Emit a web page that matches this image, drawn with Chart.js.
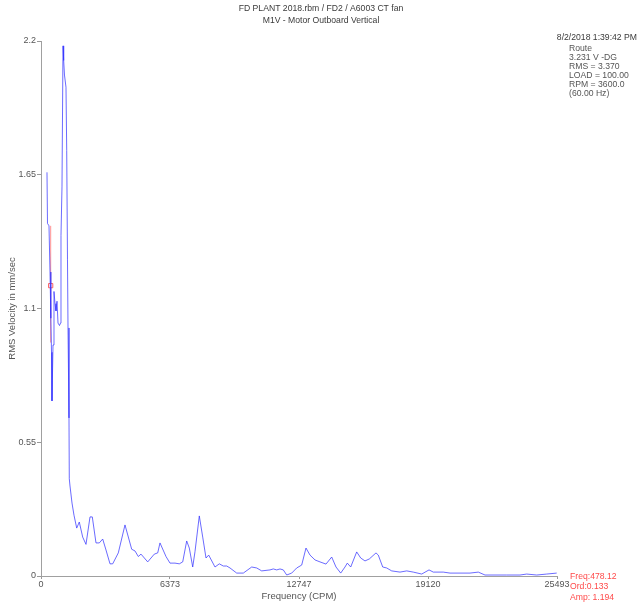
<!DOCTYPE html>
<html>
<head>
<meta charset="utf-8">
<script src="https://cdn.jsdelivr.net/npm/chart.js@4.4.1/dist/chart.umd.min.js"></script>
<style>
  html, body { margin: 0; padding: 0; background: #ffffff; }
  #wrap { width: 640px; height: 605px; }
</style>
</head>
<body>
<div id="wrap"><canvas id="c" width="640" height="605"></canvas></div>
<script>
// Frequency (CPM)
const freqCPM = [296, 321, 395, 445, 478, 494, 519, 543, 593, 642, 692, 741, 790, 840, 914, 963, 988, 1037, 1087, 1120, 1160, 1235, 1270, 1309, 1334, 1383, 1398, 1433, 1532, 1630, 1764, 1892, 2060, 2223, 2421, 2535, 2717, 2880, 3048, 3211, 3409, 3542, 3819, 4150, 4481, 4644, 4807, 4941, 5272, 5598, 5766, 5879, 6176, 6373, 6620, 6833, 7001, 7198, 7327, 7495, 7608, 7821, 7989, 8152, 8285, 8596, 8809, 9007, 9175, 9338, 9669, 9995, 10410, 10657, 10904, 11314, 11477, 11645, 11808, 11971, 12139, 12386, 12633, 12880, 13092, 13290, 13537, 13784, 14080, 14362, 14574, 14807, 15019, 15133, 15301, 15597, 15795, 16007, 16219, 16551, 16664, 16882, 17079, 17326, 17736, 18068, 18394, 18809, 19170, 19382, 19876, 20207, 20701, 21195, 21605, 21936, 23007, 23665, 23996, 24490, 24984, 25478];
// RMS velocity (mm/sec)
const rmsVelocity = [1.66, 1.45, 1.44, 1.25, 1.194, 1.06, 0.92, 0.72, 0.95, 1.17, 1.12, 1.09, 1.13, 1.04, 1.03, 1.04, 1.40, 1.60, 2.18, 2.12, 2.06, 2.01, 1.75, 1.30, 1.02, 0.65, 0.40, 0.37, 0.30, 0.25, 0.197, 0.222, 0.16, 0.13, 0.243, 0.243, 0.136, 0.136, 0.152, 0.107, 0.05, 0.05, 0.095, 0.21, 0.11, 0.103, 0.08, 0.09, 0.058, 0.09, 0.095, 0.136, 0.08, 0.053, 0.053, 0.05, 0.058, 0.144, 0.115, 0.037, 0.10, 0.247, 0.16, 0.074, 0.086, 0.037, 0.05, 0.041, 0.041, 0.033, 0.012, 0.012, 0.037, 0.033, 0.021, 0.025, 0.029, 0.025, 0.029, 0.025, 0.004, 0.012, 0.033, 0.045, 0.115, 0.086, 0.066, 0.058, 0.049, 0.078, 0.037, 0.012, 0.037, 0.053, 0.037, 0.099, 0.074, 0.062, 0.07, 0.095, 0.086, 0.037, 0.033, 0.021, 0.016, 0.021, 0.016, 0.008, 0.025, 0.016, 0.016, 0.012, 0.012, 0.012, 0.016, 0.004, 0.004, 0.004, 0.008, 0.004, 0.008, 0.012];
// Tick labels
const xTickValues = [0, 6373, 12747, 19120, 25493];
const yTickValues = [0, 0.55, 1.1, 1.65, 2.2];
// Cursor
const cursorFreq = [478.12];
const cursorAmp = [1.194];
const cursorSpan = [0.96, 1.44];
// Text
const titleLines = ["FD PLANT 2018.rbm / FD2 / A6003 CT fan", "M1V - Motor Outboard Vertical"];
const infoDate = "8/2/2018 1:39:42 PM";
const infoLines = ["Route", "3.231 V -DG", "RMS = 3.370", "LOAD = 100.00", "RPM = 3600.0", "(60.00 Hz)"];
const cursorLines = ["Freq:478.12", "Ord:0.133", "Amp: 1.194"];

const FONT = "'Liberation Sans', Arial, sans-serif";
Chart.defaults.font.family = FONT;

function narrowText(ctx, text, x, y, align) {
  const sx = 0.9;
  ctx.save();
  ctx.translate(x, y);
  ctx.scale(sx, 1);
  ctx.textAlign = align;
  ctx.fillText(text, 0, 0);
  ctx.restore();
}

const textPlugin = {
  id: 'texts',
  afterDraw(chart) {
    const ctx = chart.ctx;
    ctx.save();
    ctx.textBaseline = 'middle';
    ctx.font = "9.6px " + FONT;
    ctx.fillStyle = '#3a3a3a';
    narrowText(ctx, titleLines[0], 321, 8, 'center');
    narrowText(ctx, titleLines[1], 321, 20, 'center');
    ctx.fillStyle = '#3a3a3a';
    narrowText(ctx, infoDate, 637, 37, 'right');
    ctx.fillStyle = '#555555';
    infoLines.forEach((t, i) => narrowText(ctx, t, 569, 48 + i * 9, 'left'));
    ctx.fillStyle = '#ff4a4a';
    cursorLines.forEach((t, i) => narrowText(ctx, t, 570, 576 + i * 10.5, 'left'));
    ctx.restore();
  }
};

const spectrum = freqCPM.map((f, i) => ({ x: f, y: rmsVelocity[i] }));

new Chart(document.getElementById('c'), {
  type: 'line',
  data: {
    datasets: [
      {
        data: spectrum,
        borderColor: 'rgba(50,50,255,0.72)',
        borderWidth: 1,
        pointRadius: 0,
        tension: 0,
        fill: false
      },
      {
        data: cursorSpan.map(v => ({ x: cursorFreq[0], y: v })),
        borderColor: 'rgba(255,90,90,0.65)',
        borderWidth: 1,
        pointRadius: 0,
        fill: false
      },
      {
        data: [{ x: cursorFreq[0], y: cursorAmp[0] }],
        showLine: false,
        pointStyle: 'rect',
        pointRadius: 3,
        borderWidth: 1,
        borderColor: 'rgba(255,80,80,0.9)',
        backgroundColor: 'rgba(0,0,0,0)'
      }
    ]
  },
  options: {
    responsive: false,
    animation: false,
    devicePixelRatio: 1,
    layout: { padding: { top: 41, right: 83, left: 0, bottom: 0 } },
    plugins: { legend: { display: false }, tooltip: { enabled: false }, title: { display: false } },
    scales: {
      x: {
        type: 'linear',
        min: 0,
        max: 25493,
        afterBuildTicks: s => { s.ticks = xTickValues.map(v => ({ value: v })); },
        afterFit: s => { s.height = 29; },
        ticks: { autoSkip: false, maxRotation: 0, padding: 0, color: '#555555', font: { size: 9 }, callback: v => String(v) },
        grid: { drawOnChartArea: false, tickLength: 3, color: '#999999' },
        border: { color: '#a0a0a0', width: 1 },
        title: { display: true, text: 'Frequency (CPM)', color: '#555555', font: { size: 9.5 }, padding: { top: 0, bottom: 3 } }
      },
      y: {
        type: 'linear',
        min: 0,
        max: 2.2,
        afterBuildTicks: s => { s.ticks = yTickValues.map(v => ({ value: v })); },
        afterFit: s => { s.width = 41; },
        ticks: { autoSkip: false, padding: 1, color: '#555555', font: { size: 9 }, callback: v => String(v) },
        grid: { drawOnChartArea: false, tickLength: 4, color: '#999999' },
        border: { color: '#a0a0a0', width: 1 },
        title: { display: true, text: 'RMS Velocity in mm/sec', color: '#555555', font: { size: 9.5 }, padding: { top: 7, bottom: 0 } }
      }
    }
  },
  plugins: [textPlugin]
});
</script>
</body>
</html>
